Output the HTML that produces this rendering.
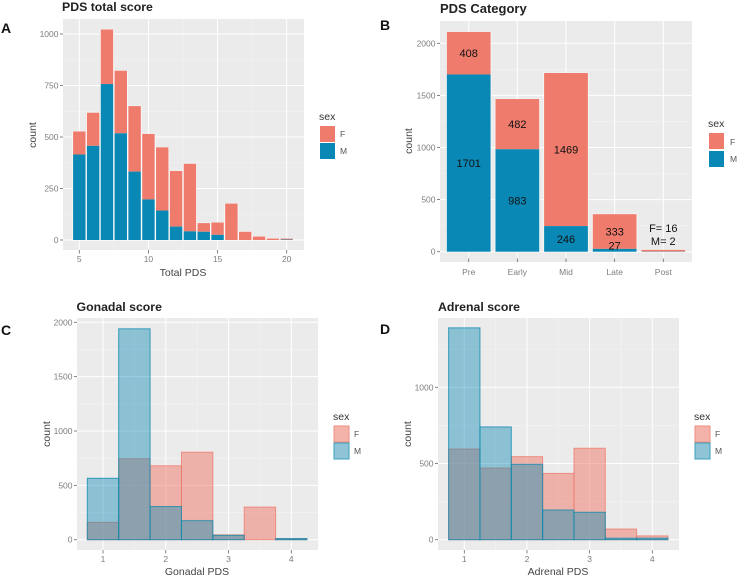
<!DOCTYPE html>
<html lang="en">
<head>
<meta charset="utf-8">
<title>PDS score charts</title>
<style>
html,body{margin:0;padding:0;background:#fff;width:739px;height:576px;overflow:hidden}
svg{display:block;font-family:"Liberation Sans",sans-serif;filter:blur(0.35px)}
.ptitle{font-size:12.3px;font-weight:bold;fill:#222}
.letter{font-size:14px;font-weight:bold;fill:#111}
.atitle{font-size:10.5px;fill:#444}
.tick{font-size:8.5px;fill:#7d7d7d}
.ltitle{font-size:10.5px;fill:#333}
.llabel{font-size:8.5px;fill:#555}
.val{font-size:11px;fill:#111}
</style>
</head>
<body>
<svg id="chart" width="739" height="576" viewBox="0 0 739 576" xmlns="http://www.w3.org/2000/svg">
  <text class="letter" x="1" y="33">A</text>
  <text class="letter" x="380" y="30">B</text>
  <text class="letter" x="1" y="335">C</text>
  <text class="letter" x="380" y="334">D</text>

  <text class="ptitle" x="62" y="11">PDS total score</text>
  <text class="ptitle" x="440" y="13" style="font-size:13px">PDS Category</text>
  <text class="ptitle" x="76.5" y="311">Gonadal score</text>
  <text class="ptitle" x="438" y="311">Adrenal score</text>

  <g id="a"></g>
  <g id="b"></g>
  <g id="c"></g>
  <g id="d"></g>

  <text class="atitle" x="183" y="276" text-anchor="middle">Total PDS</text>
  <text class="atitle" x="197" y="575" text-anchor="middle">Gonadal PDS</text>
  <text class="atitle" x="558" y="575" text-anchor="middle">Adrenal PDS</text>
  <text class="atitle" transform="translate(36,135) rotate(-90)" text-anchor="middle">count</text>
  <text class="atitle" transform="translate(412,141) rotate(-90)" text-anchor="middle">count</text>
  <text class="atitle" transform="translate(50,434) rotate(-90)" text-anchor="middle">count</text>
  <text class="atitle" transform="translate(411,434) rotate(-90)" text-anchor="middle">count</text>

  <g>
    <text class="ltitle" x="319" y="120">sex</text>
    <rect x="320" y="126" width="15" height="16" fill="#ee7b6c"/>
    <rect x="320" y="143" width="15" height="16" fill="#0a88b5"/>
    <text class="llabel" x="340" y="137">F</text>
    <text class="llabel" x="340" y="154">M</text>
  </g>
  <g>
    <text class="ltitle" x="708" y="127">sex</text>
    <rect x="709" y="133" width="15" height="16" fill="#ee7b6c"/>
    <rect x="709" y="151" width="15" height="16" fill="#0a88b5"/>
    <text class="llabel" x="730" y="145">F</text>
    <text class="llabel" x="730" y="162">M</text>
  </g>
  <g>
    <text class="ltitle" x="333" y="420">sex</text>
    <rect x="334" y="426" width="15" height="16" fill="#f4b3aa" stroke="#ee8c80"/>
    <rect x="334" y="443" width="15" height="16" fill="#8fc4d6" stroke="#3ba0bd"/>
    <text class="llabel" x="354" y="437">F</text>
    <text class="llabel" x="354" y="454">M</text>
  </g>
  <g>
    <text class="ltitle" x="694" y="420">sex</text>
    <rect x="695" y="426" width="15" height="16" fill="#f4b3aa" stroke="#ee8c80"/>
    <rect x="695" y="443" width="15" height="16" fill="#8fc4d6" stroke="#3ba0bd"/>
    <text class="llabel" x="715" y="437">F</text>
    <text class="llabel" x="715" y="454">M</text>
  </g>
</svg>
<script>
// Panel A: stacked histogram
const totalScores = [5,6,7,8,9,10,11,12,13,14,15,16,17,18,19,20];
const totalMale = [415,457,757,518,332,197,143,65,42,40,25,0,0,0,0,2];
const totalFemale = [112,161,265,304,318,318,307,270,328,42,60,177,40,17,7,5];
const totalXTicks = [5,10,15,20];
const totalYTicks = [0,250,500,750,1000];

// Panel B: stacked categories
const categoryLabels = ["Pre","Early","Mid","Late","Post"];
const categoryMale = [1701,983,246,27,2];
const categoryFemale = [408,482,1469,333,16];
const categoryYTicks = [0,500,1000,1500,2000];
const categoryAnnotation = ["F= 16","M= 2"];

// Panel C: overlapping histogram
const gonadalBins = [1,1.5,2,2.5,3,3.5,4];
const gonadalFemale = [160,745,680,805,45,300,10];
const gonadalMale = [565,1940,305,175,40,0,10];
const gonadalXTicks = [1,2,3,4];
const gonadalYTicks = [0,500,1000,1500,2000];

// Panel D: overlapping histogram
const adrenalBins = [1,1.5,2,2.5,3,3.5,4];
const adrenalFemale = [595,470,545,435,600,70,25];
const adrenalMale = [1390,740,495,195,180,10,10];
const adrenalXTicks = [1,2,3,4];
const adrenalYTicks = [0,500,1000];

const NS = "http://www.w3.org/2000/svg";

function linear(d0, r0, d1, r1) {
  return function (v) { return r0 + (v - d0) * (r1 - r0) / (d1 - d0); };
}

function rect(parent, name, x, y, w, h, fill, stroke) {
  const el = document.createElementNS(NS, "rect");
  
  
  el.setAttribute("x", x);
  el.setAttribute("y", y);
  el.setAttribute("width", w);
  el.setAttribute("height", Math.max(h, 0));
  el.setAttribute("fill", fill);
  if (stroke) {
    el.setAttribute("stroke", stroke);
    el.setAttribute("stroke-width", "1");
  }
  parent.appendChild(el);
  return el;
}

function line(parent, name, x1, y1, x2, y2, color, width) {
  const el = document.createElementNS(NS, "line");
  
  
  el.setAttribute("x1", x1);
  el.setAttribute("y1", y1);
  el.setAttribute("x2", x2);
  el.setAttribute("y2", y2);
  el.setAttribute("stroke", color);
  el.setAttribute("stroke-width", width);
  parent.appendChild(el);
}

function label(parent, name, cls, x, y, anchor, content) {
  const el = document.createElementNS(NS, "text");
  
  
  el.setAttribute("class", cls);
  el.setAttribute("x", x);
  el.setAttribute("y", y);
  el.setAttribute("text-anchor", anchor);
  el.textContent = content;
  parent.appendChild(el);
}

function frame(g, box, xs, ys, xTicks, yTicks, xLabels, minor) {
  rect(g, "panel-background", box.l, box.t, box.r - box.l, box.b - box.t, "#ebebeb");
  if (minor) {
    for (let i = 0; i < yTicks.length - 1; i++) {
      const my = ys((yTicks[i] + yTicks[i + 1]) / 2);
      line(g, "minor-gridline-y", box.l, my, box.r, my, "#f3f3f3", 0.6);
    }
    const step = yTicks[1] - yTicks[0];
    const extra = yTicks[yTicks.length - 1] + step / 2;
    if (ys(extra) > box.t) {
      line(g, "minor-gridline-y", box.l, ys(extra), box.r, ys(extra), "#f3f3f3", 0.6);
    }
    if (typeof xTicks[0] === "number") {
      for (let i = 0; i < xTicks.length - 1; i++) {
        const mx = xs((xTicks[i] + xTicks[i + 1]) / 2);
        line(g, "minor-gridline-x", mx, box.t, mx, box.b, "#f3f3f3", 0.6);
      }
    }
  }
  yTicks.forEach(function (t) {
    line(g, "major-gridline-y", box.l, ys(t), box.r, ys(t), "#ffffff", 1);
    line(g, "y-tick-mark", box.l - 3, ys(t), box.l, ys(t), "#666", 0.8);
    label(g, "y-tick-label", "tick", box.l - 4.5, ys(t) + 3, "end", String(t));
  });
  xTicks.forEach(function (t, i) {
    const px = xs(typeof t === "number" ? t : i);
    line(g, "major-gridline-x", px, box.t, px, box.b, "#ffffff", 1);
    line(g, "x-tick-mark", px, box.tickTop, px, box.tickTop + 3.5, "#666", 0.8);
    label(g, "x-tick-label", "tick", px, box.b + box.labelGap, "middle", xLabels ? xLabels[i] : String(t));
  });
}

function drawStacked(g, xs, ys, xVals, male, female, barWidth, prefix) {
  const half = (xs(1) - xs(0)) * barWidth / 2;
  xVals.forEach(function (v, i) {
    const cx = xs(v);
    const top = ys(male[i] + female[i]);
    const mid = ys(male[i]);
    rect(g, prefix + "-bar-halo", cx - half - 0.7, top - 0.4, half * 2 + 1.4, ys(0) - top + 1.2, "#fbfbfb");
  });
  xVals.forEach(function (v, i) {
    const cx = xs(v);
    const top = ys(male[i] + female[i]);
    const mid = ys(male[i]);
    rect(g, prefix + "-bar-f", cx - half, top, half * 2, mid - top, "#ee7b6c");
    rect(g, prefix + "-bar-m", cx - half, mid, half * 2, ys(0) - mid, "#0a88b5");
  });
}

function drawOverlap(g, xs, ys, bins, female, male, prefix) {
  const half = (xs(1) - xs(0)) * 0.25;
  bins.forEach(function (v, i) {
    const top = ys(female[i]);
    rect(g, prefix + "-bar-f", xs(v) - half, top, half * 2, ys(0) - top, "rgba(240,120,105,0.5)", "rgba(238,120,105,0.75)");
  });
  bins.forEach(function (v, i) {
    const top = ys(male[i]);
    rect(g, prefix + "-bar-m", xs(v) - half, top, half * 2, ys(0) - top, "rgba(10,136,181,0.42)", "rgba(15,140,175,0.8)");
  });
}

// A
(function () {
  const g = document.getElementById("a");
  const box = { l: 63, r: 304, t: 19, b: 250, tickTop: 250, labelGap: 12 };
  const xs = linear(5, 79.3, 20, 286.7);
  const ys = linear(0, 240, 1000, 34);
  frame(g, box, xs, ys, totalXTicks, totalYTicks, null, true);
  drawStacked(g, xs, ys, totalScores, totalMale, totalFemale, 0.9, "total");
})();

// B
(function () {
  const g = document.getElementById("b");
  const box = { l: 440, r: 692, t: 21, b: 262, tickTop: 258.5, labelGap: 13 };
  const xs = linear(0, 468.7, 4, 663.3);
  const ys = linear(0, 251.7, 2000, 43.3);
  const idx = categoryLabels.map(function (_, i) { return i; });
  frame(g, box, xs, ys, categoryLabels, categoryYTicks, categoryLabels, true);
  drawStacked(g, xs, ys, idx, categoryMale, categoryFemale, 0.9, "category");
  idx.slice(0, 4).forEach(function (i) {
    const m = categoryMale[i];
    const f = categoryFemale[i];
    label(g, "value-label-f", "val", xs(i), ys(m + f / 2) + 4, "middle", String(f));
    label(g, "value-label-m", "val", xs(i), ys(m / 2) + (m < 100 ? -1 : 4), "middle", String(m));
  });
  const postTop = ys(categoryMale[4] + categoryFemale[4]);
  label(g, "post-annotation-f", "val", xs(4), postTop - 18, "middle", categoryAnnotation[0]);
  label(g, "post-annotation-m", "val", xs(4), postTop - 5, "middle", categoryAnnotation[1]);
})();

// C
(function () {
  const g = document.getElementById("c");
  const box = { l: 77, r: 318, t: 318, b: 550, tickTop: 550, labelGap: 12 };
  const xs = linear(1, 103, 4, 291.3);
  const ys = linear(0, 539.7, 2000, 322.3);
  frame(g, box, xs, ys, gonadalXTicks, gonadalYTicks, null, true);
  drawOverlap(g, xs, ys, gonadalBins, gonadalFemale, gonadalMale, "gonadal");
})();

// D
(function () {
  const g = document.getElementById("d");
  const box = { l: 438, r: 679, t: 318, b: 550, tickTop: 550, labelGap: 12 };
  const xs = linear(1, 464.3, 4, 652.3);
  const ys = linear(0, 539.7, 1000, 387.3);
  frame(g, box, xs, ys, adrenalXTicks, adrenalYTicks, null, true);
  drawOverlap(g, xs, ys, adrenalBins, adrenalFemale, adrenalMale, "adrenal");
})();
</script>
</body>
</html>
